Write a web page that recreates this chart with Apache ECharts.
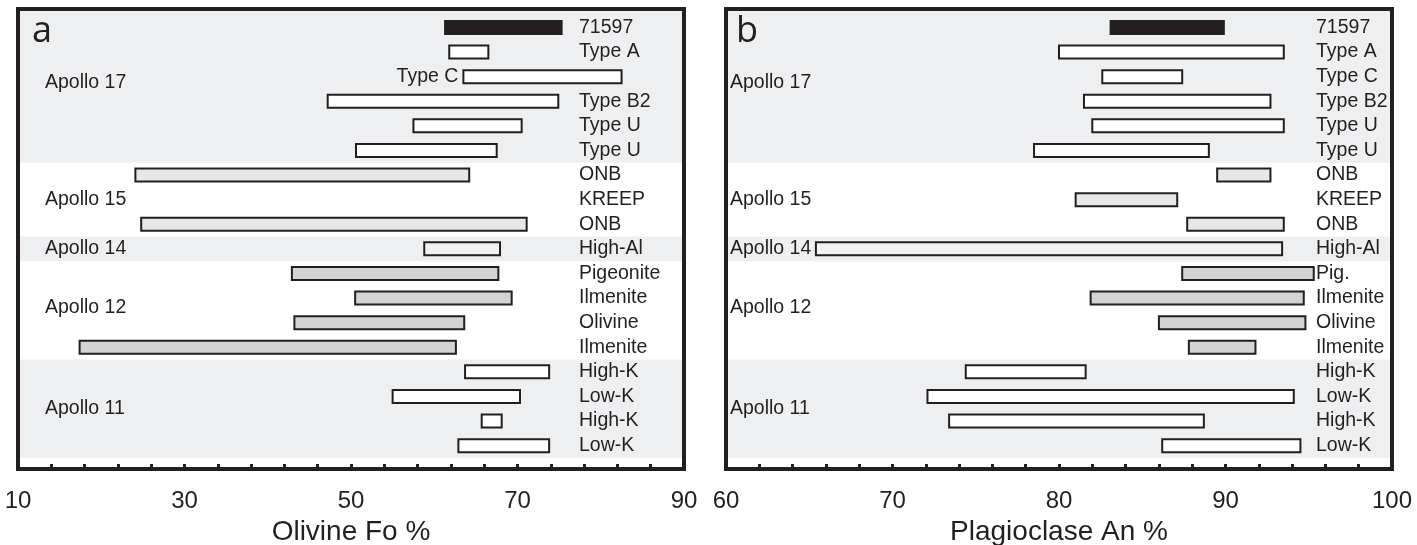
<!DOCTYPE html>
<html>
<head>
<meta charset="utf-8">
<script src="https://cdn.jsdelivr.net/npm/echarts@6/dist/echarts.min.js"></script>
<style>
  html, body { margin: 0; padding: 0; background: #ffffff; }
  #chart { width: 1417px; height: 545px; }
</style>
</head>
<body>
<div id="chart"></div>
<script>
// Rows, top to bottom, shared by both panels
const rowNamesOlivine = ['71597', 'Type A', 'Type C', 'Type B2', 'Type U', 'Type U',
  'ONB', 'KREEP', 'ONB', 'High-Al', 'Pigeonite', 'Ilmenite', 'Olivine', 'Ilmenite',
  'High-K', 'Low-K', 'High-K', 'Low-K'];
const rowNamesPlag = ['71597', 'Type A', 'Type C', 'Type B2', 'Type U', 'Type U',
  'ONB', 'KREEP', 'ONB', 'High-Al', 'Pig.', 'Ilmenite', 'Olivine', 'Ilmenite',
  'High-K', 'Low-K', 'High-K', 'Low-K'];
// Fill class of each row: 0 = 71597, 1 = Apollo 17, 2 = Apollo 15, 3 = Apollo 14, 4 = Apollo 12, 5 = Apollo 11
const rowClass = [0, 1, 1, 1, 1, 1, 2, 2, 2, 3, 4, 4, 4, 4, 5, 5, 5, 5];

// Olivine Fo % ranges (null = no data)
const olivineLow  = [61.3, 61.8, 63.5, 47.2, 57.5, 50.6, 24.1, null, 24.8, 58.8, 42.9, 50.5, 43.2, 17.4, 63.7, 55.0, 65.7, 62.9];
const olivineHigh = [75.3, 66.5, 82.5, 74.9, 70.5, 67.5, 64.2, null, 71.1, 67.9, 67.7, 69.3, 63.6, 62.6, 73.8, 70.3, 68.1, 73.8];

// Plagioclase An % ranges
const plagLow  = [83.1, 80.0, 82.6, 81.5, 82.0, 78.5, 89.5, 81.0, 87.7, 65.4, 87.4, 81.9, 86.0, 87.8, 74.4, 72.1, 73.4, 86.2];
const plagHigh = [89.9, 93.5, 87.4, 92.7, 93.5, 89.0, 92.7, 87.1, 93.5, 93.4, 95.3, 94.7, 94.8, 91.8, 81.6, 94.1, 88.7, 94.5];

// Mission groups: label and the row where the label sits
const groupNames = ['Apollo 17', 'Apollo 15', 'Apollo 14', 'Apollo 12', 'Apollo 11'];
const groupLabelRows = [2.25, 7, 9, 11.4, 15.5];

// Axis ticks
const olivineTicks = [10, 30, 50, 70, 90];
const olivineMinorTicks = [10, 14, 18, 22, 26, 30, 34, 38, 42, 46, 50, 54, 58, 62, 66, 70, 74, 78, 82, 86, 90];
const plagTicks = [60, 70, 80, 90, 100];
const plagMinorTicks = [60, 62, 64, 66, 68, 70, 72, 74, 76, 78, 80, 82, 84, 86, 88, 90, 92, 94, 96, 98, 100];

const INK = '#231f20';
const FONT = "'Liberation Sans', Arial, Helvetica, sans-serif";
const classFill = ['#231f20', '#ffffff', '#e6e7e8', '#f1f2f3', '#d1d3d4', '#ffffff'];
const bandFill = '#eeeff1';
const Y_MIN = -0.75, Y_MAX = 17.95;

function barData(lows, highs) {
  const out = [];
  for (let i = 0; i < lows.length; i++) {
    if (lows[i] == null) continue;
    out.push([lows[i], highs[i], i, rowClass[i]]);
  }
  return out;
}

function renderBar(params, api) {
  const a = api.coord([api.value(0), api.value(2)]);
  const b = api.coord([api.value(1), api.value(2)]);
  const h = 13;
  return {
    type: 'rect',
    shape: { x: a[0], y: a[1] - h / 2, width: b[0] - a[0], height: h },
    style: { fill: classFill[api.value(3)], stroke: INK, lineWidth: 2 }
  };
}

// Row labels sit at a fixed distance from the right end of the axis,
// except where a label is placed just left of its own bar.
function makeRowLabelRenderer(names, xMax, rightGap, beside, lows) {
  return function (params, api) {
    const row = api.value(0);
    const p = api.coord([xMax, row]);
    let x = p[0] - rightGap, align = 'left';
    if (beside.indexOf(row) >= 0) {
      x = api.coord([lows[row], row])[0] - 5;
      align = 'right';
    }
    return {
      type: 'text',
      style: { text: names[row], x: x, y: p[1], align: align, verticalAlign: 'middle',
        fontSize: 19.5, fontFamily: FONT, fill: INK }
    };
  };
}

function makeGroupLabelRenderer(xMin, leftGap) {
  return function (params, api) {
    const idx = api.value(0);
    const p = api.coord([xMin, api.value(1)]);
    return {
      type: 'text',
      style: { text: groupNames[idx], x: p[0] + leftGap, y: p[1], align: 'left', verticalAlign: 'middle',
        fontSize: 19.5, fontFamily: FONT, fill: INK }
    };
  };
}

const rowIdx = rowNamesOlivine.map((_, i) => [i]);
const groupData = groupNames.map((_, i) => [i, groupLabelRows[i]]);

const bands = [
  [{ yAxis: Y_MIN }, { yAxis: 5.5 }],
  [{ yAxis: 8.5 }, { yAxis: 9.5 }],
  [{ yAxis: 13.5 }, { yAxis: 17.5 }]
];

function mainAxis(gridIndex, min, max, ticks, name) {
  return {
    type: 'value', gridIndex: gridIndex, position: 'bottom', min: min, max: max,
    splitLine: { show: false },
    axisLine: { show: true, lineStyle: { color: INK, width: 4 } },
    axisTick: { show: true, customValues: ticks, inside: false, length: 7, lineStyle: { color: INK, width: 3 } },
    axisLabel: { show: true, customValues: ticks, margin: 20, fontSize: 24, fontFamily: FONT, color: INK },
    minorTick: { show: false },
    name: name, nameLocation: 'middle', nameGap: 44,
    nameTextStyle: { fontSize: 28, fontFamily: FONT, color: INK }
  };
}

function innerTickAxis(gridIndex, min, max, ticks) {
  return {
    type: 'value', gridIndex: gridIndex, position: 'bottom', min: min, max: max,
    splitLine: { show: false },
    axisLine: { show: false },
    axisTick: { show: true, customValues: ticks, inside: true, length: 5, lineStyle: { color: INK, width: 3 } },
    axisLabel: { show: false },
    minorTick: { show: false }
  };
}

function yAxisFor(gridIndex) {
  return { type: 'value', gridIndex: gridIndex, inverse: true, min: Y_MIN, max: Y_MAX, show: false };
}

const panelLetterStyle = { fontSize: 36, fontWeight: 'normal', fontFamily: "'Open Sans', 'Noto Sans', sans-serif", color: INK };

const option = {
  animation: false,
  backgroundColor: '#ffffff',
  title: [
    { text: 'a', left: 32, top: 14, padding: 0, textStyle: panelLetterStyle },
    { text: 'b', left: 736, top: 14, padding: 0, textStyle: panelLetterStyle }
  ],
  grid: [
    { left: 18, top: 9, width: 666, height: 460, show: true, z: 10, backgroundColor: 'transparent',
      borderColor: INK, borderWidth: 4, containLabel: false, outerBoundsMode: 'none' },
    { left: 726, top: 9, width: 666, height: 460, show: true, z: 10, backgroundColor: 'transparent',
      borderColor: INK, borderWidth: 4, containLabel: false, outerBoundsMode: 'none' }
  ],
  xAxis: [
    mainAxis(0, 10, 90, olivineTicks, 'Olivine Fo %'),
    innerTickAxis(0, 10, 90, olivineMinorTicks),
    mainAxis(1, 60, 100, plagTicks, 'Plagioclase An %'),
    innerTickAxis(1, 60, 100, plagMinorTicks)
  ],
  yAxis: [yAxisFor(0), yAxisFor(1)],
  series: [
    // shaded mission bands
    { type: 'line', xAxisIndex: 0, yAxisIndex: 0, data: [], z: 1, silent: true,
      markArea: { silent: true, itemStyle: { color: bandFill }, data: bands } },
    { type: 'line', xAxisIndex: 2, yAxisIndex: 1, data: [], z: 1, silent: true,
      markArea: { silent: true, itemStyle: { color: bandFill }, data: bands } },
    // range bars
    { type: 'custom', xAxisIndex: 0, yAxisIndex: 0, z: 3, silent: true,
      encode: { x: [0, 1], y: 2 }, renderItem: renderBar, data: barData(olivineLow, olivineHigh) },
    { type: 'custom', xAxisIndex: 2, yAxisIndex: 1, z: 3, silent: true,
      encode: { x: [0, 1], y: 2 }, renderItem: renderBar, data: barData(plagLow, plagHigh) },
    // row labels
    { type: 'custom', xAxisIndex: 0, yAxisIndex: 0, z: 4, silent: true, clip: false,
      encode: { y: 0 }, renderItem: makeRowLabelRenderer(rowNamesOlivine, 90, 105, [2], olivineLow), data: rowIdx },
    { type: 'custom', xAxisIndex: 2, yAxisIndex: 1, z: 4, silent: true, clip: false,
      encode: { y: 0 }, renderItem: makeRowLabelRenderer(rowNamesPlag, 100, 76, [], plagLow), data: rowIdx },
    // mission labels
    { type: 'custom', xAxisIndex: 0, yAxisIndex: 0, z: 4, silent: true, clip: false,
      encode: { y: 1 }, renderItem: makeGroupLabelRenderer(10, 27), data: groupData },
    { type: 'custom', xAxisIndex: 2, yAxisIndex: 1, z: 4, silent: true, clip: false,
      encode: { y: 1 }, renderItem: makeGroupLabelRenderer(60, 4), data: groupData }
  ]
};

const chart = echarts.init(document.getElementById('chart'), null, { renderer: 'canvas' });
chart.setOption(option);
</script>
</body>
</html>
